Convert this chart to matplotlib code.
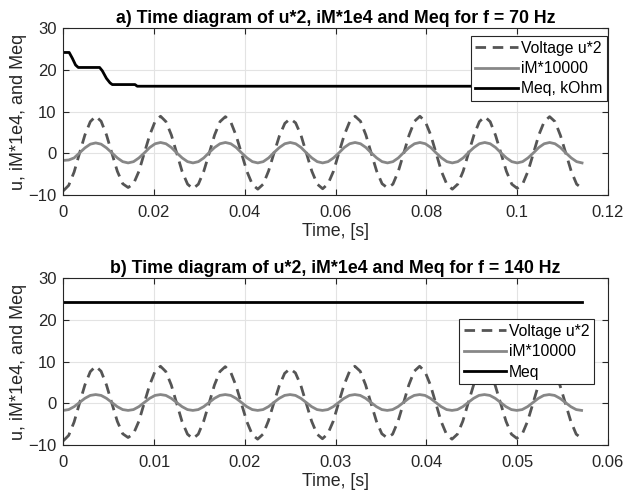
import matplotlib.pyplot as plt
import numpy as np

plt.rcParams['font.family'] = ['Liberation Sans', 'DejaVu Sans']

# sampled signals, 12 samples per period, 8 periods (70 Hz and 140 Hz)
u2_a = [-9.0, -7.7, -4.5, 0.0, 4.4, 7.6, 8.9, 7.7, 4.4, 0.0, -4.3, -7.3,
        -8.2, -7.3, -4.3, 0.1, 4.4, 7.7, 8.9, 7.6, 4.4, 0.0, -4.4, -7.4,
        -8.5, -7.4, -4.3, 0.0, 4.4, 7.6, 8.8, 7.5, 4.2, -0.1, -4.4, -7.5,
        -8.6, -7.4, -4.2, 0.1, 4.2, 7.2, 8.3, 7.3, 4.3, 0.0, -4.3, -7.4,
        -8.5, -7.3, -4.3, 0.1, 4.4, 7.6, 8.9, 7.7, 4.4, 0.0, -4.3, -7.3,
        -8.3, -7.4, -4.3, 0.0, 4.4, 7.7, 8.9, 7.6, 4.4, 0.0, -4.4, -7.5,
        -8.6, -7.4, -4.3, 0.1, 4.4, 7.6, 8.8, 7.6, 4.3, 0.0, -4.3, -7.4,
        -8.4, -7.4, -4.3, 0.0, 4.4, 7.6, 8.8, 7.6, 4.3, 0.0, -4.3, -7.4,
        -8.4]
im_a = [-1.7, -1.6, -1.1, 0.1, 1.3, 2.2, 2.5, 2.2, 1.3, 0.1, -1.1, -2.0,
        -2.3, -2.0, -1.1, 0.1, 1.4, 2.3, 2.6, 2.3, 1.4, 0.1, -1.1, -2.0,
        -2.3, -2.0, -1.1, 0.2, 1.4, 2.3, 2.6, 2.3, 1.4, 0.1, -1.1, -2.0,
        -2.3, -2.0, -1.1, 0.2, 1.4, 2.3, 2.6, 2.3, 1.4, 0.1, -1.1, -2.0,
        -2.3, -2.0, -1.1, 0.1, 1.4, 2.3, 2.6, 2.3, 1.4, 0.1, -1.1, -2.0,
        -2.3, -2.0, -1.1, 0.2, 1.4, 2.3, 2.6, 2.3, 1.4, 0.1, -1.1, -2.0,
        -2.3, -2.0, -1.1, 0.2, 1.4, 2.3, 2.6, 2.3, 1.4, 0.1, -1.1, -2.0,
        -2.3, -2.0, -1.1, 0.1, 1.4, 2.3, 2.6, 2.3, 1.4, 0.1, -1.1, -2.0,
        -2.3]
u2_b = [-9.0, -7.7, -4.5, 0.0, 4.4, 7.6, 8.9, 7.7, 4.4, 0.0, -4.3, -7.3,
        -8.2, -7.3, -4.3, 0.1, 4.4, 7.7, 8.9, 7.6, 4.4, 0.0, -4.4, -7.4,
        -8.5, -7.4, -4.3, 0.0, 4.4, 7.6, 8.8, 7.5, 4.2, -0.1, -4.4, -7.5,
        -8.6, -7.4, -4.2, 0.1, 4.2, 7.2, 8.3, 7.3, 4.3, 0.0, -4.3, -7.4,
        -8.5, -7.3, -4.3, 0.1, 4.4, 7.6, 8.9, 7.7, 4.4, 0.0, -4.3, -7.3,
        -8.3, -7.4, -4.3, 0.0, 4.4, 7.7, 8.9, 7.6, 4.4, 0.0, -4.4, -7.5,
        -8.6, -7.4, -4.3, 0.1, 4.4, 7.6, 8.8, 7.6, 4.3, 0.0, -4.3, -7.4,
        -8.4, -7.4, -4.3, 0.0, 4.4, 7.6, 8.8, 7.6, 4.3, 0.0, -4.3, -7.4,
        -8.4]
im_b = [-1.7, -1.5, -0.8, 0.2, 1.2, 1.9, 2.1, 1.9, 1.2, 0.2, -0.8, -1.5,
        -1.7, -1.5, -0.8, 0.2, 1.2, 1.9, 2.1, 1.9, 1.2, 0.2, -0.8, -1.5,
        -1.7, -1.5, -0.8, 0.2, 1.2, 1.9, 2.1, 1.9, 1.2, 0.2, -0.8, -1.5,
        -1.7, -1.5, -0.8, 0.2, 1.2, 1.9, 2.1, 1.9, 1.2, 0.2, -0.8, -1.5,
        -1.7, -1.5, -0.8, 0.2, 1.2, 1.9, 2.1, 1.9, 1.2, 0.2, -0.8, -1.5,
        -1.7, -1.5, -0.8, 0.2, 1.2, 1.9, 2.1, 1.9, 1.2, 0.2, -0.8, -1.5,
        -1.7, -1.5, -0.8, 0.2, 1.2, 1.9, 2.1, 1.9, 1.2, 0.2, -0.8, -1.5,
        -1.7, -1.5, -0.8, 0.2, 1.2, 1.9, 2.1, 1.9, 1.2, 0.2, -0.8, -1.5,
        -1.7]
t_end_a = 0.1143
t_end_b = 0.0571

# equivalent memristance, kOhm
meq_a_t = [0, 0.0013, 0.0020, 0.0027, 0.0033, 0.0080, 0.0086, 0.0095, 0.0103, 0.0108, 0.0158, 0.0163, 0.1143]
meq_a = [24.2, 24.2, 22.8, 21.2, 20.6, 20.6, 19.8, 18.0, 16.9, 16.5, 16.5, 16.1, 16.1]
meq_b_t = [0, 0.0571]
meq_b = [24.2, 24.2]

xticks_a = [0, 0.02, 0.04, 0.06, 0.08, 0.1, 0.12]
xticks_b = [0, 0.01, 0.02, 0.03, 0.04, 0.05, 0.06]
yticks = [-10, 0, 10, 20, 30]

c_axis = '#262626'
c_dash = '#555555'
c_gray = '#878787'

fig = plt.figure(figsize=(6.26, 5.0), dpi=100)
ax1 = fig.add_axes([0.1011, 0.61, 0.870, 0.3334])
ax2 = fig.add_axes([0.1011, 0.11, 0.870, 0.3334])

panels = [
    (ax1, u2_a, im_a, t_end_a, meq_a_t, meq_a, xticks_a, 'Meq, kOhm',
     'a) Time diagram of u*2, iM*1e4 and Meq for f = 70 Hz', (0.998, 0.955)),
    (ax2, u2_b, im_b, t_end_b, meq_b_t, meq_b, xticks_b, 'Meq',
     'b) Time diagram of u*2, iM*1e4 and Meq for f = 140 Hz', (0.975, 0.757)),
]

for ax, u2, im, t_end, mt, mv, xt, meq_label, title, leg_pos in panels:
    t = np.linspace(0, t_end, len(u2))
    ax.plot(t, u2, '--', color=c_dash, lw=2.0, dashes=(3.8, 2.4), label='Voltage u*2')
    ax.plot(t, im, '-', color=c_gray, lw=2.0, label='iM*10000')
    ax.plot(mt, mv, '-', color='black', lw=2.0, label=meq_label)

    ax.set_xlim(xt[0], xt[-1])
    ax.set_ylim(-10, 30)
    ax.set_xticks(xt)
    ax.set_xticklabels(['%g' % v for v in xt])
    ax.set_yticks(yticks)
    ax.grid(True, color='#e3e3e3', lw=0.8)
    ax.set_axisbelow(True)
    ax.tick_params(direction='in', top=True, right=True, length=4,
                   labelsize=12, colors=c_axis)
    ax.tick_params(axis='x', pad=7)
    ax.tick_params(axis='y', pad=5)
    for s in ax.spines.values():
        s.set_color(c_axis)
        s.set_linewidth(0.8)

    ax.set_xlabel('Time, [s]', fontsize=12.8, color=c_axis, labelpad=2)
    ax.set_ylabel('u, iM*1e4, and Meq', fontsize=13, color=c_axis, labelpad=1)
    ax.set_title(title, fontsize=12.8, fontweight='bold', pad=4)

    leg = ax.legend(loc='upper right', bbox_to_anchor=leg_pos, fontsize=11.3,
                    handlelength=2.7, handletextpad=0.2, borderpad=0.3,
                    labelspacing=0.35, borderaxespad=0, fancybox=False,
                    framealpha=1)
    leg.get_frame().set_edgecolor(c_axis)
    leg.get_frame().set_linewidth(0.8)

fig.savefig('out.png', dpi=100)
